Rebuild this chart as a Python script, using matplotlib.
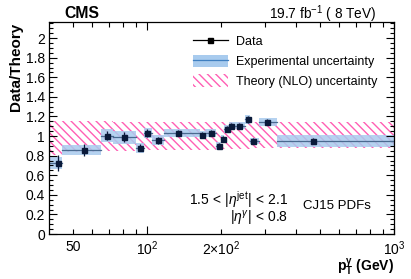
import matplotlib
matplotlib.use("Agg")
import matplotlib.pyplot as plt
import numpy as np
from matplotlib.ticker import FixedLocator, FixedFormatter
from matplotlib.patches import Patch, Rectangle
from matplotlib.lines import Line2D

plt.rcParams['font.family'] = ['Liberation Sans', 'DejaVu Sans']
plt.rcParams['mathtext.fontset'] = 'custom'
plt.rcParams['mathtext.rm'] = 'Liberation Sans'
plt.rcParams['mathtext.it'] = 'Liberation Sans:italic'
plt.rcParams['mathtext.bf'] = 'Liberation Sans:bold'
plt.rcParams['hatch.linewidth'] = 1.0

# ---- data ----
bin_lo = [40, 45, 65, 73, 90, 97, 105, 117, 163, 172, 190, 200, 205, 215, 225, 250, 262, 285, 335]
bin_hi = [45, 65, 73, 90, 97, 105, 117, 163, 172, 190, 200, 205, 215, 225, 250, 262, 285, 335, 1000]
pt_pt = [43.7, 55.7, 68.7, 80.9, 93.1, 99.7, 110.1, 133.9, 167, 181, 195.7, 202.5, 210.2, 218.2, 236.4, 257, 269.3, 305, 469]
ratio = [0.725, 0.854, 1.005, 0.988, 0.879, 1.033, 0.957, 1.029, 1.012, 1.03, 0.895, 0.971, 1.074, 1.10, 1.108, 1.17, 0.947, 1.146, 0.947]
stat_err = [0.085, 0.06, 0.05, 0.05, 0.035, 0.04, 0.035, 0.03, 0.03, 0.03, 0.03, 0.03, 0.03, 0.03, 0.03, 0.04, 0.03, 0.03, 0.03]
exp_err = [0.06, 0.05, 0.063, 0.065, 0.05, 0.05, 0.05, 0.04, 0.04, 0.04, 0.04, 0.04, 0.04, 0.04, 0.04, 0.05, 0.03, 0.04, 0.06]
theo_up = [0.15, 0.15, 0.15, 0.14, 0.14, 0.14, 0.14, 0.14, 0.14, 0.14, 0.14, 0.14, 0.14, 0.14, 0.14, 0.14, 0.14, 0.14, 0.14]
theo_dn = [0.19, 0.16, 0.15, 0.15, 0.15, 0.14, 0.14, 0.14, 0.14, 0.14, 0.13, 0.13, 0.13, 0.13, 0.13, 0.13, 0.12, 0.12, 0.12]

x_major = [100, 1000]
x_major_labels = ['$10^{2}$', '$10^{3}$']
x_minor = [50, 60, 70, 80, 90, 200, 300, 400, 500, 600, 700, 800, 900]
x_minor_labels = ['50', '', '', '', '', r'$2{\times}10^{2}$', '', '', '', '', '', '', '']
y_ticks = [0, 0.2, 0.4, 0.6, 0.8, 1.0, 1.2, 1.4, 1.6, 1.8, 2.0]
y_tick_labels = ['0', '0.2', '0.4', '0.6', '0.8', '1', '1.2', '1.4', '1.6', '1.8', '2']

PINK = '#ff5fb4'
BLUE = '#a8cbee'
BLUELINE = '#3f7fc0'

fig = plt.figure(figsize=(4.11, 2.79), dpi=100)
ax = fig.add_axes([49/411, 1-234/279, (394-49)/411, (234-22)/279])

lo = np.array(bin_lo, float); hi = np.array(bin_hi, float)
r = np.array(ratio)

# theory hatched band
for i in range(len(lo)):
    ax.add_patch(Rectangle((lo[i], 1 - theo_dn[i]), hi[i]-lo[i], theo_up[i]+theo_dn[i],
                           facecolor='none', edgecolor=PINK, hatch='\\\\\\\\', linewidth=0))
# experimental boxes
for i in range(len(lo)):
    ax.add_patch(Rectangle((lo[i], r[i]-exp_err[i]), hi[i]-lo[i], 2*exp_err[i],
                           facecolor=BLUE, edgecolor='none', alpha=0.85))
    ax.plot([lo[i], hi[i]], [r[i], r[i]], color='#4a6a90', lw=0.9)

ax.errorbar(pt_pt, ratio, yerr=stat_err, fmt='s', color='#0a1a3a', ms=3.6, lw=0.9, capsize=0)

ax.set_xscale('log')
ax.set_xlim(40, 1000)
ax.set_ylim(0, 2.165)

ax.xaxis.set_major_locator(FixedLocator(x_major))
ax.xaxis.set_major_formatter(FixedFormatter(x_major_labels))
ax.xaxis.set_minor_locator(FixedLocator(x_minor))
ax.xaxis.set_minor_formatter(FixedFormatter(x_minor_labels))
ax.set_yticks(y_ticks)
ax.set_yticklabels(y_tick_labels)
ax.set_yticks(np.arange(0, 2.16, 0.05), minor=True)

ax.tick_params(which='both', direction='in', top=True, right=True, labelsize=10, width=0.8, colors='black')
ax.tick_params(which='major', length=6)
ax.tick_params(which='minor', length=3)
ax.tick_params(axis='y', which='both', pad=3)
ax.tick_params(axis='x', which='both', pad=4)
ax.tick_params(axis='x', which='minor', length=3.5)
for s in ax.spines.values():
    s.set_linewidth(0.9)

ax.set_ylabel('Data/Theory', fontsize=11, fontweight='bold')
ax.yaxis.set_label_coords(-0.075, 0.79)
ax.text(1.0, -0.178, r'$\mathbf{p}_{\mathbf{T}}^{\mathbf{\gamma}}$ (GeV)', transform=ax.transAxes,
        ha='right', va='baseline', fontsize=10, fontweight='bold')

fig.text(64/411, 1-14/279, 'CMS', fontsize=11.3, fontweight='bold', ha='left', va='center')
fig.text(376/411, 1-14/279, r'19.7 fb$^{-1}$ ( 8 TeV)', fontsize=9.8, ha='right', va='center')

ax.text(0.693, 0.35/2.165, r'$1.5\,<\,|\eta^{\mathrm{jet}}|\,<\,2.1$', fontsize=10, ha='right', va='center',
        transform=ax.transAxes)
ax.text(0.693, 0.154/2.165, r'$|\eta^{\gamma}|\,<\,0.8$', fontsize=10, ha='right', va='center',
        transform=ax.transAxes)
ax.text(0.736, 0.287/2.165, 'CJ15 PDFs', fontsize=9.5, ha='left', va='center', transform=ax.transAxes)

h_data = Line2D([], [], color='black', marker='s', ms=3.6, lw=0.9)
h_exp = (Patch(facecolor=BLUE, edgecolor='none'), Line2D([], [], color=BLUELINE, lw=0.9))
h_th = Patch(facecolor='none', edgecolor=PINK, hatch='\\\\\\\\', linewidth=0)
leg = ax.legend([h_data, h_exp, h_th], ['Data', 'Experimental uncertainty', 'Theory (NLO) uncertainty'],
                loc='upper left', bbox_to_anchor=(0.417, 0.94), frameon=False, fontsize=9,
                handlelength=2.8, handleheight=1.2, labelspacing=0.5, handletextpad=0.64, borderaxespad=0,
                borderpad=0)

fig.savefig('out.png', dpi=100)
